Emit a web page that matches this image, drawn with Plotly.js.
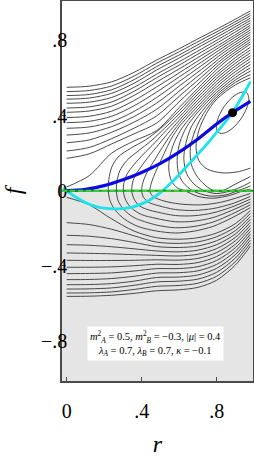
<!DOCTYPE html>
<html>
<head>
<meta charset="utf-8">
<script src="https://cdn.plot.ly/plotly-3.0.1.min.js"></script>
<style>html,body{margin:0;padding:0;background:#fff;}#plot{width:254px;height:463px;}</style>
</head>
<body>
<div id="plot"></div>
<script>
// ---- contour lines above the origin: open lines from r = 0 to the right edge
const upperGridR = [0, 0.12, 0.24, 0.36, 0.48, 0.6, 0.72, 0.84, 0.98];
const upperLinesF = [
  [.550,.556,.579,.630,.695,.755,.818,.880,.956],
  [.527,.533,.557,.610,.678,.739,.803,.866,.943],
  [.506,.512,.537,.591,.660,.722,.787,.852,.931],
  [.487,.493,.518,.572,.642,.706,.772,.838,.918],
  [.465,.471,.496,.550,.620,.686,.754,.823,.906],
  [.440,.446,.472,.529,.601,.668,.738,.808,.893],
  [.417,.424,.450,.507,.578,.648,.720,.792,.880],
  [.389,.396,.423,.480,.552,.627,.703,.779,.868],
  [.362,.369,.396,.452,.525,.605,.685,.765,.855],
  [.332,.339,.367,.422,.496,.581,.666,.751,.843],
  [.296,.307,.341,.395,.466,.556,.646,.737,.830],
  [.255,.270,.311,.365,.433,.529,.626,.722,.817],
  [.211,.230,.277,.333,.398,.502,.605,.708,.805],
  [.172,.196,.249,.303,.360,.473,.585,.694,.792],
  [.020,.080,.200,.265,.320,.442,.565,.680,.780]
];
// ---- contour lines below the origin
const lowerGridR = [0, 0.12, 0.24, 0.36, 0.48, 0.6, 0.7, 0.8, 0.9, 0.98];
const lowerLinesF = [
  [-.035,-.075,-.150,-.215,-.250,-.258,-.250,-.225,-.175,-.105],
  [-.170,-.180,-.205,-.240,-.2735,-.280,-.272,-.245,-.193,-.121],
  [-.237,-.242,-.255,-.275,-.297,-.302,-.294,-.266,-.212,-.137],
  [-.287,-.290,-.298,-.309,-.3205,-.325,-.316,-.287,-.230,-.152],
  [-.331,-.333,-.336,-.340,-.344,-.347,-.338,-.308,-.248,-.168],
  [-.370,-.371,-.371,-.370,-.3675,-.369,-.360,-.329,-.266,-.184],
  [-.407,-.407,-.405,-.399,-.391,-.392,-.382,-.350,-.285,-.200],
  [-.441,-.440,-.437,-.427,-.4145,-.414,-.404,-.371,-.303,-.216],
  [-.473,-.472,-.467,-.455,-.438,-.436,-.426,-.392,-.322,-.231],
  [-.500,-.499,-.494,-.481,-.4615,-.459,-.448,-.413,-.340,-.247],
  [-.523,-.522,-.517,-.503,-.485,-.481,-.470,-.434,-.358,-.263],
  [-.544,-.543,-.538,-.525,-.5085,-.504,-.492,-.455,-.377,-.279],
  [-.562,-.561,-.556,-.546,-.532,-.527,-.514,-.476,-.395,-.295]
];
// ---- contour lines wrapping round the minimum (cut by the right edge); the last one is closed
const wrapLinesR = [
  [0.98,0.9,0.8,0.7,0.6,0.5,0.42,0.34,0.275,0.24,0.225,0.222,0.232,0.26,0.31,0.38,0.477,0.58,0.68,0.78,0.88,0.98],
  [0.98,0.9,0.8,0.7,0.6,0.52,0.45,0.38,0.32,0.283,0.268,0.265,0.275,0.305,0.36,0.477,0.58,0.68,0.78,0.88,0.98],
  [0.98,0.9,0.8,0.7,0.6,0.53,0.47,0.41,0.36,0.32,0.305,0.302,0.315,0.345,0.4,0.477,0.58,0.68,0.78,0.88,0.98],
  [0.98,0.9,0.8,0.7,0.6,0.54,0.49,0.44,0.395,0.362,0.35,0.347,0.36,0.39,0.44,0.477,0.58,0.68,0.78,0.88,0.98],
  [0.98,0.9,0.8,0.7,0.6,0.55,0.51,0.47,0.43,0.407,0.40,0.41,0.44,0.477,0.58,0.68,0.78,0.88,0.98],
  [0.98,0.9,0.8,0.7,0.6,0.56,0.53,0.5,0.47,0.45,0.444,0.455,0.477,0.54,0.62,0.72,0.82,0.9,0.98],
  [0.98,0.9,0.8,0.7,0.62,0.575,0.55,0.545,0.56,0.59,0.63,0.7,0.78,0.87,0.942,0.98],
  [0.98,0.9,0.8,0.7,0.64,0.605,0.59,0.595,0.62,0.672,0.76,0.85,0.912,0.98],
  [0.98,0.9,0.8,0.72,0.665,0.635,0.625,0.64,0.68,0.734,0.8,0.876,0.93,0.98],
  [0.98,0.9,0.8,0.73,0.685,0.66,0.665,0.7,0.75,0.787,0.81,0.832,0.9,0.98],
  [0.98,0.9,0.8,0.745,0.705,0.69,0.705,0.75,0.83,0.91,0.98],
  [0.960,0.927,0.883,0.840,0.809,0.798,0.810,0.843,0.887,0.930,0.961,0.972,0.960]
];
const wrapLinesF = [
  [0.763,0.708,0.627,0.530,0.425,0.33,0.27,0.225,0.18,0.125,0.06,0.0,-0.055,-0.105,-0.152,-0.19,-0.214,-0.225,-0.215,-0.19,-0.145,-0.09],
  [0.748,0.693,0.612,0.514,0.408,0.33,0.265,0.21,0.16,0.105,0.05,0.0,-0.055,-0.1,-0.143,-0.182,-0.197,-0.19,-0.167,-0.125,-0.075],
  [0.733,0.678,0.597,0.498,0.391,0.32,0.255,0.195,0.14,0.085,0.04,0.0,-0.05,-0.092,-0.127,-0.147,-0.165,-0.162,-0.143,-0.105,-0.06],
  [0.718,0.663,0.582,0.482,0.374,0.305,0.245,0.185,0.125,0.075,0.035,0.0,-0.045,-0.082,-0.103,-0.112,-0.132,-0.133,-0.118,-0.087,-0.045],
  [0.703,0.648,0.567,0.466,0.357,0.29,0.23,0.165,0.1,0.045,0.0,-0.035,-0.063,-0.076,-0.1,-0.105,-0.095,-0.07,-0.03],
  [0.687,0.633,0.552,0.450,0.340,0.28,0.22,0.155,0.09,0.035,0.0,-0.025,-0.04,-0.06,-0.072,-0.075,-0.062,-0.04,-0.015],
  [0.671,0.618,0.537,0.434,0.34,0.26,0.18,0.11,0.05,0.015,0.0,-0.03,-0.04,-0.025,0.0,0.008],
  [0.654,0.603,0.523,0.418,0.34,0.26,0.18,0.1,0.045,0.0,-0.028,-0.022,0.0,0.025],
  [0.636,0.589,0.51,0.42,0.34,0.25,0.17,0.09,0.035,0.0,-0.015,0.0,0.02,0.045],
  [0.618,0.576,0.498,0.41,0.32,0.23,0.14,0.07,0.02,0.0,-0.004,0.0,0.035,0.075],
  [0.600,0.563,0.487,0.41,0.32,0.23,0.16,0.115,0.095,0.1,0.12],
  [0.5215,0.523,0.496,0.447,0.389,0.339,0.3085,0.307,0.334,0.383,0.441,0.491,0.5215]
];
// ---- curves through the origin and the minimum
const blueR = [0, 0.1, 0.2, 0.3, 0.4, 0.5, 0.6, 0.7, 0.8, 0.885, 0.98];
const blueF = [0, 0.007, 0.027, 0.058, 0.097, 0.145, 0.205, 0.275, 0.355, 0.415, 0.475];
const cyanR = [-0.02, 0, 0.05, 0.1, 0.15, 0.2, 0.25, 0.3, 0.35, 0.4, 0.45, 0.5, 0.55, 0.6, 0.65, 0.7, 0.75, 0.8, 0.85, 0.885, 0.9, 0.95, 0.98];
const cyanF = [0.014, 0.0, -0.035, -0.063, -0.082, -0.093, -0.097, -0.095, -0.087, -0.07, -0.045, -0.01, 0.035, 0.085, 0.14, 0.195, 0.25, 0.31, 0.37, 0.415, 0.44, 0.525, 0.58];
const minimumR = [0.885];
const minimumF = [0.415];
// ---- axes
const xTickVals = [0, 0.4, 0.8];
const xTickText = ['0', '.4', '.8'];
const yTickVals = [-0.8, -0.4, 0, 0.4, 0.8];
const yTickText = ['\u2212.8', '\u2212.4', '0', '.4', '.8'];

const contourLine = {color: '#353535', width: 0.9, shape: 'spline', smoothing: 0.85};
const traces = [];
upperLinesF.forEach(f => traces.push({x: upperGridR, y: f, type: 'scatter', mode: 'lines', line: contourLine, hoverinfo: 'skip', showlegend: false}));
lowerLinesF.forEach(f => traces.push({x: lowerGridR, y: f, type: 'scatter', mode: 'lines', line: contourLine, hoverinfo: 'skip', showlegend: false}));
wrapLinesR.forEach((r, i) => traces.push({x: r, y: wrapLinesF[i], type: 'scatter', mode: 'lines', line: contourLine, hoverinfo: 'skip', showlegend: false}));
traces.push({x: cyanR, y: cyanF, type: 'scatter', mode: 'lines', line: {color: '#1ee3ea', width: 2.8, shape: 'spline'}, hoverinfo: 'skip', showlegend: false});
traces.push({x: blueR, y: blueF, type: 'scatter', mode: 'lines', line: {color: '#0a0ae0', width: 3.2, shape: 'spline'}, hoverinfo: 'skip', showlegend: false});
traces.push({x: minimumR, y: minimumF, type: 'scatter', mode: 'markers', marker: {color: '#000', size: 9}, hoverinfo: 'skip', showlegend: false});

const serif = '"Liberation Serif", "DejaVu Serif", serif';
const layout = {
  width: 254, height: 463,
  margin: {l: 62, r: 1, t: 1, b: 82},
  paper_bgcolor: '#fff', plot_bgcolor: '#fff',
  showlegend: false,
  font: {family: serif, size: 20, color: '#000'},
  xaxis: {
    range: [-0.025, 0.994], showgrid: false, zeroline: false,
    showline: true, mirror: true, linecolor: '#4a4a4a', linewidth: 1.5,
    ticks: 'inside', ticklen: 4, tickcolor: '#4a4a4a', tickwidth: 1,
    tickvals: xTickVals, ticktext: xTickText, ticklabelstandoff: 11,
    tickfont: {family: serif, size: 20, color: '#000'},
    title: {text: '<i>r</i>', font: {family: serif, size: 24, color: '#000'}, standoff: 14}
  },
  yaxis: {
    range: [-1.012, 1.009], showgrid: false, zeroline: false,
    showline: true, mirror: true, linecolor: '#4a4a4a', linewidth: 1.5,
    ticks: 'inside', ticklen: 4, tickcolor: '#4a4a4a', tickwidth: 1,
    tickvals: yTickVals, ticktext: yTickText, ticklabelstandoff: -11,
    tickfont: {family: serif, size: 20, color: '#000'},
    title: {text: '<i>f</i>', font: {family: serif, size: 24, color: '#000'}, standoff: 17}
  },
  shapes: [
    {type: 'rect', xref: 'paper', yref: 'y', x0: 0, x1: 1, y0: -1.2, y1: 0, fillcolor: '#e5e5e5', line: {width: 0}, layer: 'below'},
    {type: 'line', xref: 'paper', yref: 'y', x0: 0, x1: 1, y0: 0, y1: 0, line: {color: '#169a16', width: 2}},
    {type: 'line', xref: 'paper', yref: 'y', x0: 0, x1: 1, y0: 0, y1: 0, line: {color: '#3ad23a', width: 2, dash: '5px,3px'}}
  ],
  annotations: [{
    xref: 'x', yref: 'y', x: 0.476, y: -0.815, showarrow: false,
    text: '<i>m</i><sup>2</sup><sub><i>A</i></sub> = 0.5, <i>m</i><sup>2</sup><sub><i>B</i></sub> = \u22120.3, |<i>\u03bc</i>| = 0.4<br><i>\u03bb<sub>A</sub></i> = 0.7, <i>\u03bb<sub>B</sub></i> = 0.7, <i>\u03ba</i> = \u22120.1',
    font: {family: serif, size: 10.5, color: '#000'}, bgcolor: '#fff', borderpad: 2, align: 'center'
  }]
};
Plotly.newPlot('plot', traces, layout, {displayModeBar: false});
</script>
</body>
</html>
